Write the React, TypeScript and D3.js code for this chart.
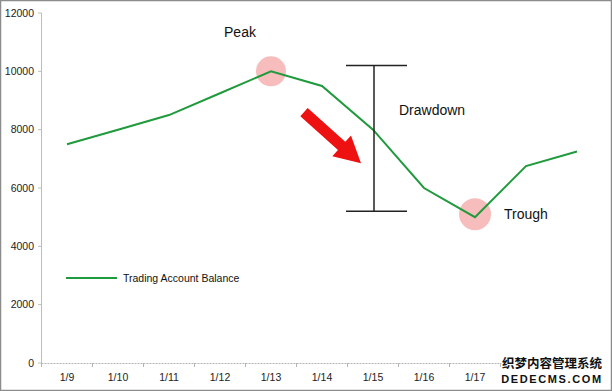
import React from "react";
import * as d3 from "d3";

const categories = ["1/9", "1/10", "1/11", "1/12", "1/13", "1/14", "1/15", "1/16", "1/17", "1/18", "1/19"];
const tickLabels = ["1/9", "1/10", "1/11", "1/12", "1/13", "1/14", "1/15", "1/16", "1/17", "", ""];
const balance = [7500, 8000, 8500, 9250, 10000, 9500, 8000, 6000, 5000, 6750, 7250];
const yTicks = [0, 2000, 4000, 6000, 8000, 10000, 12000];
const seriesName = "Trading Account Balance";

const W = 612;
const H = 391;

export default function App() {
  const x = d3.scaleBand<string>().domain(categories).range([41.5, 602.5]).padding(0);
  const y = d3.scaleLinear().domain([0, 12000]).range([363, 13]);
  const cx = (c: string) => (x(c) as number) + x.bandwidth() / 2;
  const line = d3
    .line<number>()
    .x((_, i) => cx(categories[i]))
    .y((d) => y(d));

  const peakIdx = balance.indexOf(d3.max(balance.slice(0, 9)) as number);
  const troughIdx = balance.indexOf(d3.min(balance) as number);
  const peakX = cx(categories[peakIdx]);
  const troughX = cx(categories[troughIdx]);

  const barX = cx("1/15") + 1;
  const barTop = y(10200);
  const barBot = y(5200);

  const ax0 = cx("1/13") + 33, ay0 = y(8600);
  const ax1 = cx("1/15") - 12, ay1 = y(6850);
  const ang = Math.atan2(ay1 - ay0, ax1 - ax0);
  const len = Math.hypot(ax1 - ax0, ay1 - ay0);
  const shaftW = 5.5, headW = 14, headL = 26;
  const arrowPts: [number, number][] = [
    [0, -shaftW], [len - headL, -shaftW], [len - headL, -headW], [len, 0],
    [len - headL, headW], [len - headL, shaftW], [0, shaftW],
  ].map(([u, v]) => [
    ax0 + u * Math.cos(ang) - v * Math.sin(ang),
    ay0 + u * Math.sin(ang) + v * Math.cos(ang),
  ]) as [number, number][];

  const font = "'Liberation Sans', Arial, sans-serif";

  return (
    <svg width={W} height={H} style={{ position: "absolute", left: 0, top: 0, background: "#fff" }}>
      <rect x={0.5} y={0.5} width={W - 1} height={H - 1} fill="#fff" stroke="#8c8c8c" strokeWidth={1.5} />
      <line x1={41.5} x2={41.5} y1={y(12000)} y2={y(0)} stroke="#bdbdbd" strokeWidth={1} />
      {yTicks.map((t) => (
        <g key={t}>
          <line x1={38} x2={41.5} y1={y(t)} y2={y(t)} stroke="#bdbdbd" />
          <text x={34} y={y(t)} dy="0.35em" textAnchor="end" fontSize={10.5} fontFamily={font} fill="#222">
            {t}
          </text>
        </g>
      ))}
      <line x1={41.5} x2={602.5} y1={y(0) + 0.5} y2={y(0) + 0.5} stroke="#b5b5b5" strokeDasharray="2,1" />
      {categories.map((c, i) => (
        <g key={c}>
          <line x1={x(c) as number} x2={x(c) as number} y1={y(0)} y2={y(0) + 4} stroke="#b5b5b5" />
          <text x={cx(c)} y={381} textAnchor="middle" fontSize={10.5} fontFamily={font} fill="#222">
            {tickLabels[i]}
          </text>
        </g>
      ))}
      <circle cx={peakX} cy={y(balance[peakIdx])} r={15} fill="#f29a9a" opacity={0.65} />
      <circle cx={troughX} cy={y(balance[troughIdx]) - 3} r={16} fill="#f29a9a" opacity={0.65} />
      <path d={line(balance) as string} fill="none" stroke="#1f9a3c" strokeWidth={2} strokeLinejoin="miter" />
      <g stroke="#222" strokeWidth={1.5}>
        <line x1={barX} x2={barX} y1={barTop} y2={barBot} />
        <line x1={barX - 28} x2={barX + 33} y1={barTop} y2={barTop} />
        <line x1={barX - 28} x2={barX + 33} y1={barBot} y2={barBot} />
      </g>
      <polygon points={arrowPts.map((p) => p.join(",")).join(" ")} fill="#ee1111" />
      <text x={peakX - 31} y={y(11200) + 1} textAnchor="middle" fontSize={14} fontFamily={font} fill="#111">Peak</text>
      <text x={barX + 25} y={y(8500)} fontSize={14} fontFamily={font} fill="#111">Drawdown</text>
      <text x={troughX + 29} y={y(4950)} fontSize={14} fontFamily={font} fill="#111">Trough</text>
      <line x1={66} x2={117} y1={278} y2={278} stroke="#1f9a3c" strokeWidth={2} />
      <text x={123} y={278} dy="0.35em" fontSize={10.5} fontFamily={font} fill="#111">{seriesName}</text>
      <text x={552} y={368} textAnchor="middle" fontSize={12.5} fontWeight="bold" fontFamily="'Noto Sans CJK SC', sans-serif"
        fill="#111" stroke="#fff" strokeWidth={2.5} paintOrder="stroke">织梦内容管理系统</text>
      <text x={552} y={383} textAnchor="middle" fontSize={11} fontWeight="bold" letterSpacing={1.6} fontFamily={font}
        fill="#111" stroke="#fff" strokeWidth={2.5} paintOrder="stroke">DEDECMS.COM</text>
    </svg>
  );
}
